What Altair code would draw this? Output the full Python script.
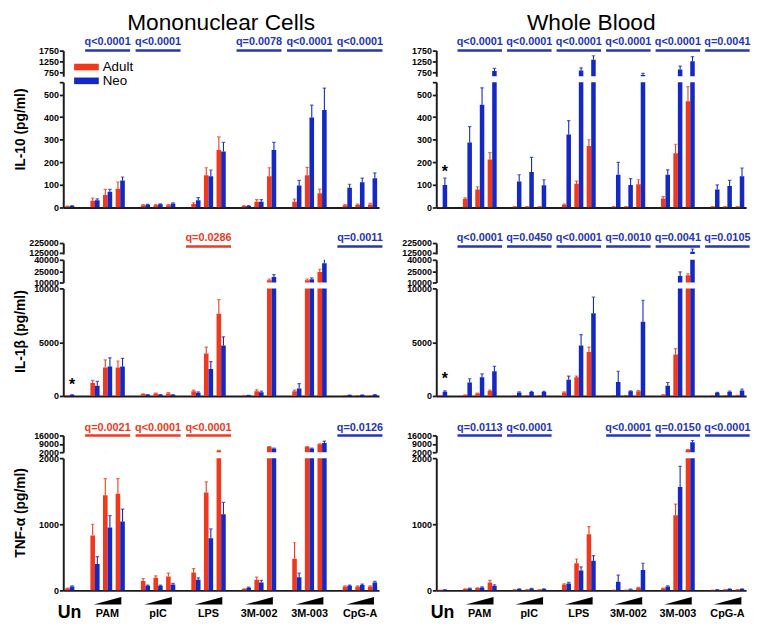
import altair as alt
import pandas as pd

FONT = "Liberation Sans"
RED = "#f0391c"
BLUE = "#1428c4"
QRED = "#ef3a22"
QBLUE = "#2536b8"
AX = "#1c1c1c"

GROUPS = ["Un", "PAM", "pIC", "LPS", "3M-002", "3M-003", "CpG-A"]
GROUP_SLOTS = {
    "Un": ["Un"],
    "PAM": ["PAM 1", "PAM 2", "PAM 3"],
    "pIC": ["pIC 1", "pIC 2", "pIC 3"],
    "LPS": ["LPS 1", "LPS 2", "LPS 3"],
    "3M-002": ["3M-002 1", "3M-002 2", "3M-002 3"],
    "3M-003": ["3M-003 1", "3M-003 2", "3M-003 3"],
    "CpG-A": ["CpG-A 1", "CpG-A 2", "CpG-A 3"],
}
SLOTS = []
for i, g in enumerate(GROUPS):
    SLOTS += GROUP_SLOTS[g]
    if i < len(GROUPS) - 1:
        SLOTS.append("gap %d" % i)
BAR_SLOTS = [s for g in GROUPS for s in GROUP_SLOTS[g]]

# ---- data (Un, PAM x3, pIC x3, LPS x3, 3M-002 x3, 3M-003 x3, CpG-A x3) ----
MNC_IL10_A = [5, 30, 55, 83, 10, 10, 10, 15, 143, 255, 7, 25, 138, 25, 143, 63, 10, 12, 13]
MNC_IL10_AE = [1, 12, 25, 30, 3, 3, 3, 6, 33, 58, 1, 10, 38, 12, 35, 18, 3, 3, 5]
MNC_IL10_N = [7, 32, 70, 120, 12, 14, 18, 32, 138, 248, 7, 25, 255, 97, 398, 432, 88, 112, 130]
MNC_IL10_NE = [1, 6, 10, 15, 2, 2, 3, 12, 28, 40, 1, 10, 33, 23, 55, 97, 15, 18, 23]

WB_IL10_A = [0, 38, 80, 213, 3, 3, 3, 12, 105, 272, 3, 3, 103, 40, 240, 470, 3, 3, 3]
WB_IL10_AE = [0, 5, 12, 30, 1, 1, 1, 3, 12, 28, 1, 1, 20, 8, 40, 65, 1, 1, 1]
WB_IL10_N = [100, 288, 455, 800, 115, 157, 98, 323, 830, 1320, 145, 100, 620, 145, 870, 1260, 80, 95, 138]
WB_IL10_NE = [30, 70, 75, 125, 30, 65, 25, 62, 120, 190, 55, 28, 70, 22, 160, 210, 20, 25, 37]

MNC_IL1B_A = [30, 1200, 2650, 2650, 180, 220, 230, 450, 3950, 7650, 30, 450, 13100, 450, 13100, 24000, 20, 20, 30]
MNC_IL1B_AE = [5, 250, 700, 600, 30, 50, 80, 100, 600, 1300, 5, 120, 1500, 100, 1500, 3500, 5, 5, 5]
MNC_IL1B_N = [100, 950, 2750, 2750, 120, 120, 100, 300, 2500, 4700, 60, 350, 17400, 700, 14400, 35500, 80, 90, 120]
MNC_IL1B_NE = [20, 400, 800, 750, 20, 20, 20, 80, 700, 800, 10, 100, 3000, 450, 1700, 6000, 10, 10, 20]

WB_IL1B_A = [30, 80, 230, 470, 30, 30, 30, 330, 1750, 4100, 20, 30, 450, 100, 3850, 19600, 30, 30, 50]
WB_IL1B_AE = [5, 20, 30, 80, 5, 5, 5, 50, 100, 450, 5, 5, 60, 20, 550, 2000, 5, 5, 10]
WB_IL1B_N = [400, 1250, 1750, 2300, 330, 370, 370, 1500, 4700, 7700, 1300, 430, 6900, 950, 18700, 132000, 300, 400, 500]
WB_IL1B_NE = [80, 350, 300, 450, 60, 70, 60, 350, 1000, 1500, 1000, 50, 2000, 300, 5300, 28000, 40, 60, 150]

MNC_TNF_A = [30, 830, 1440, 1460, 140, 190, 210, 270, 1480, 3200, 20, 160, 6500, 480, 6500, 8700, 60, 60, 60]
MNC_TNF_AE = [5, 170, 250, 230, 40, 30, 50, 60, 160, 300, 5, 40, 300, 240, 300, 300, 10, 10, 10]
MNC_TNF_N = [60, 400, 950, 1040, 70, 70, 90, 160, 790, 1150, 40, 120, 5200, 200, 5200, 9700, 70, 80, 120]
MNC_TNF_NE = [10, 110, 180, 190, 10, 10, 15, 30, 140, 180, 10, 30, 300, 60, 300, 1600, 10, 15, 15]

WB_TNF_A = [5, 20, 35, 120, 10, 10, 10, 90, 410, 850, 5, 5, 40, 30, 1135, 4000, 5, 10, 10]
WB_TNF_AE = [1, 3, 5, 30, 2, 2, 2, 10, 65, 115, 1, 1, 5, 5, 170, 300, 1, 2, 2]
WB_TNF_N = [10, 30, 45, 70, 20, 25, 20, 105, 300, 450, 130, 15, 310, 60, 1565, 10400, 10, 20, 20]
WB_TNF_NE = [2, 5, 8, 15, 3, 4, 3, 15, 55, 75, 100, 3, 100, 10, 310, 1400, 2, 4, 4]

# q-value annotations: (group, text, colour)
MNC_IL10_Q = [("PAM", "q<0.0001", "blue"), ("pIC", "q<0.0001", "blue"), ("3M-002", "q=0.0078", "blue"),
              ("3M-003", "q<0.0001", "blue"), ("CpG-A", "q<0.0001", "blue")]
WB_IL10_Q = [("PAM", "q<0.0001", "blue"), ("pIC", "q<0.0001", "blue"), ("LPS", "q<0.0001", "blue"),
             ("3M-002", "q<0.0001", "blue"), ("3M-003", "q<0.0001", "blue"), ("CpG-A", "q=0.0041", "blue")]
MNC_IL1B_Q = [("LPS", "q=0.0286", "red"), ("CpG-A", "q=0.0011", "blue")]
WB_IL1B_Q = [("PAM", "q<0.0001", "blue"), ("pIC", "q=0.0450", "blue"), ("LPS", "q<0.0001", "blue"),
             ("3M-002", "q=0.0010", "blue"), ("3M-003", "q=0.0041", "blue"), ("CpG-A", "q=0.0105", "blue")]
MNC_TNF_Q = [("PAM", "q=0.0021", "red"), ("pIC", "q<0.0001", "red"), ("LPS", "q<0.0001", "red"),
             ("CpG-A", "q=0.0126", "blue")]
WB_TNF_Q = [("PAM", "q=0.0113", "blue"), ("pIC", "q<0.0001", "blue"), ("3M-002", "q<0.0001", "blue"),
            ("3M-003", "q=0.0150", "blue"), ("CpG-A", "q<0.0001", "blue")]

# asterisk level above the unstimulated bars (data units)
MNC_IL1B_STAR = 1371
WB_IL10_STAR = 176
WB_IL1B_STAR = 1983

ROWS = {
    "IL10": dict(title="IL-10 (pg/ml)",
                 segs=[(560, 1750, 26, [750, 1250, 1750]),
                       (0, 555, 127, [0, 100, 200, 300, 400, 500, 555])],
                 title_y=47.5, qty=-8.5, qly=0),
    "IL1B": dict(title="IL-1β (pg/ml)",
                 segs=[(110000, 225000, 11, [125000, 225000]),
                       (10000, 40000, 23, [10000, 25000, 40000]),
                       (0, 10000, 109, [0, 5000, 10000])],
                 title_y=43.3, qty=-5, qly=3.5),
    "TNF": dict(title="TNF-α (pg/ml)",
                segs=[(2000, 16000, 17, [2000, 9000, 16000]),
                      (0, 2000, 134, [0, 1000, 2000])],
                title_y=55, qty=-7.7, qly=0),
}

XSCALE = alt.Scale(domain=SLOTS, paddingInner=0.27, paddingOuter=0.15)
XOFF = alt.XOffset("cohort:N", scale=alt.Scale(domain=["Adult", "Neo"], paddingInner=0, paddingOuter=0))
WEDGE = "M -1 0.275 L 1 -0.275 L 1 0.275 Z"
WL, WR = 320, 314


def make_df(a, ae, n, ne):
    rows = []
    for s, v, e in zip(BAR_SLOTS, a, ae):
        rows.append({"slot": s, "cohort": "Adult", "value": v, "top": v + e, "col": RED})
    for s, v, e in zip(BAR_SLOTS, n, ne):
        rows.append({"slot": s, "cohort": "Neo", "value": v, "top": v + e, "col": BLUE})
    return pd.DataFrame(rows)


def segments(df, row, width, left, qlist, star=None, col_title=None, legend=False):
    charts = []
    nseg = len(row["segs"])
    for i, (lo, hi, h, ticks) in enumerate(row["segs"]):
        top = i == 0
        bottom = i == nseg - 1
        yscale = alt.Scale(domain=[lo, hi], zero=False, nice=False)
        ax = dict(values=ticks, format="d", title=None, labelOverlap=False, labelFlush=False)
        if 555 in ticks:
            ax["labelExpr"] = "datum.value == 555 ? '' : datum.label"
        if bottom and left:
            ax.update(title=row["title"], titleX=-43, titleY=row["title_y"], titleAngle=270,
                      titleAlign="center", titleBaseline="middle")
        yaxis = alt.Axis(**ax)
        if bottom:
            xaxis = alt.Axis(labels=False, ticks=False, title=None, domain=True)
        else:
            xaxis = None
        x = alt.X("slot:N", scale=XSCALE, axis=xaxis)
        c = alt.Color("col:N", scale=None)
        base = alt.Chart(df).encode(x=x, xOffset=XOFF, color=c)
        bars = base.mark_bar(clip=True).encode(
            y=alt.Y("value:Q", scale=yscale, axis=yaxis), y2=alt.datum(0))
        errs = base.mark_rule(clip=True, strokeWidth=1.1).encode(
            y=alt.Y("value:Q", scale=yscale, axis=yaxis), y2=alt.Y2("top:Q"))
        caps = base.transform_filter(
            "datum.top >= %s && datum.top <= %s" % (lo, hi)
        ).mark_tick(clip=True, size=3.5, thickness=1.2).encode(
            y=alt.Y("top:Q", scale=yscale, axis=yaxis))
        layers = [bars, errs, caps]
        if top:
            qdf = pd.DataFrame([{"first": GROUP_SLOTS[g][0], "mid": GROUP_SLOTS[g][1],
                                 "last": GROUP_SLOTS[g][-1], "text": t,
                                 "col": QRED if cc == "red" else QBLUE} for g, t, cc in qlist])
            layers.append(alt.Chart(qdf).mark_text(font=FONT, fontWeight="bold", fontSize=11,
                                                   baseline="middle").encode(
                x=alt.X("mid:N", scale=XSCALE, axis=xaxis), y=alt.value(row["qty"]),
                text="text:N", color=c))
            layers.append(alt.Chart(qdf).mark_rule(strokeWidth=2.5, xOffset=-10, x2Offset=10).encode(
                x=alt.X("first:N", scale=XSCALE, axis=xaxis), x2=alt.X2("last:N"),
                y=alt.value(row["qly"]), color=c))
            if col_title:
                layers.append(alt.Chart(pd.DataFrame({"t": [col_title]})).mark_text(
                    font=FONT, fontSize=23, baseline="alphabetic", align="center", color="black").encode(
                    x=alt.value(width / 2), y=alt.value(-21), text="t:N"))
            if legend:
                for k, (name, colr) in enumerate([("Adult", RED), ("Neo", BLUE)]):
                    ldf = pd.DataFrame({"label": [name]})
                    layers.append(alt.Chart(ldf).mark_rect(color=colr).encode(
                        x=alt.value(11), x2=alt.value(36),
                        y=alt.value(13.3 + 14 * k), y2=alt.value(20 + 14 * k)))
                    layers.append(alt.Chart(ldf).mark_text(font=FONT, fontSize=13.5, align="left",
                                                           baseline="middle", color="black").encode(
                        x=alt.value(40), y=alt.value(17 + 14 * k), text="label:N"))
        if bottom and star is not None:
            sdf = pd.DataFrame({"slot": ["Un"], "cohort": ["Neo"], "val": [star], "s": ["*"]})
            layers.append(alt.Chart(sdf).mark_text(font=FONT, fontSize=16, fontWeight="bold",
                                                   baseline="middle", dy=4, color="black").encode(
                x=x, xOffset=XOFF, y=alt.Y("val:Q", scale=yscale, axis=yaxis), text="s:N"))
        charts.append(alt.layer(*layers).properties(width=width, height=h))
    return charts


def label_row(width):
    ldf = pd.DataFrame({"group": GROUPS,
                        "mid": [GROUP_SLOTS[g][len(GROUP_SLOTS[g]) // 2] for g in GROUPS]})
    x = alt.X("mid:N", scale=XSCALE, axis=None)
    wedge = alt.Chart(ldf).transform_filter("datum.group != 'Un'").mark_point(
        shape=WEDGE, filled=True, fill="black", opacity=1, size=784, strokeWidth=0).encode(
        x=x, y=alt.value(6.5))
    un = alt.Chart(ldf).transform_filter("datum.group == 'Un'").mark_text(
        font=FONT, fontSize=18, fontWeight="bold", baseline="middle", color="black").encode(
        x=x, y=alt.value(18.5), text="group:N")
    others = alt.Chart(ldf).transform_filter("datum.group != 'Un'").mark_text(
        font=FONT, fontSize=11, fontWeight="bold", baseline="middle", color="black").encode(
        x=x, y=alt.value(20), text="group:N")
    return alt.layer(wedge, un, others).properties(width=width, height=26)


def spacer(width, h):
    return alt.Chart(pd.DataFrame({"e": [""]})).mark_text().encode(
        text="e:N").properties(width=width, height=h)


LEFT = [make_df(MNC_IL10_A, MNC_IL10_AE, MNC_IL10_N, MNC_IL10_NE),
        make_df(MNC_IL1B_A, MNC_IL1B_AE, MNC_IL1B_N, MNC_IL1B_NE),
        make_df(MNC_TNF_A, MNC_TNF_AE, MNC_TNF_N, MNC_TNF_NE)]
RIGHT = [make_df(WB_IL10_A, WB_IL10_AE, WB_IL10_N, WB_IL10_NE),
         make_df(WB_IL1B_A, WB_IL1B_AE, WB_IL1B_N, WB_IL1B_NE),
         make_df(WB_TNF_A, WB_TNF_AE, WB_TNF_N, WB_TNF_NE)]
LQ = [MNC_IL10_Q, MNC_IL1B_Q, MNC_TNF_Q]
RQ = [WB_IL10_Q, WB_IL1B_Q, WB_TNF_Q]
LSTAR = [None, MNC_IL1B_STAR, None]
RSTAR = [WB_IL10_STAR, WB_IL1B_STAR, None]

cells = []
for r, (key, gap_after) in enumerate([("IL10", 35.5), ("IL1B", 39.3), ("TNF", 4)]):
    L = segments(LEFT[r], ROWS[key], WL, True, LQ[r], LSTAR[r],
                 col_title="Mononuclear Cells" if r == 0 else None, legend=(r == 0))
    R = segments(RIGHT[r], ROWS[key], WR, False, RQ[r], RSTAR[r],
                 col_title="Whole Blood" if r == 0 else None)
    for k in range(len(L)):
        cells += [L[k], R[k]]
        if k < len(L) - 1:
            cells += [spacer(WL, 6), spacer(WR, 6)]
    cells += [spacer(WL, gap_after), spacer(WR, gap_after)]
cells += [label_row(WL), label_row(WR)]

chart = alt.concat(
    *cells, columns=2, spacing=alt.RowColnumber(row=0, column=58), bounds="flush", align="each"
).resolve_scale(
    xOffset="independent"
).properties(
    padding={"left": 5, "top": 0, "right": 5, "bottom": 5}
).configure_axis(
    labelFont=FONT, labelFontWeight="bold", labelFontSize=9, labelColor="black",
    domainColor=AX, domainWidth=2, tickColor=AX, tickWidth=1.8, tickSize=4,
    labelPadding=1, grid=False, titleFont=FONT, titleFontWeight="bold",
    titleFontSize=14, titleColor="black"
).configure_view(stroke=None)

chart.save("out.html", embed_options={"renderer": "svg", "actions": False})
